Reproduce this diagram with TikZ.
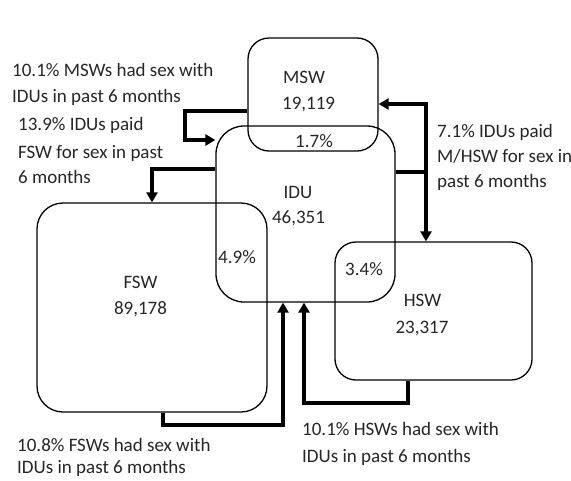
\documentclass[tikz,border=0pt]{standalone}
\usepackage{fontspec}
\setmainfont{Carlito}
\usetikzlibrary{arrows.meta}
\begin{document}
\begin{tikzpicture}[x=1pt,y=-1pt,
  box/.style={draw, line width=1.3pt, rounded corners=#1, inner sep=0pt},
  flow/.style={line width=3.2pt, line join=miter, -{Triangle[length=10pt,width=11pt]}},
  bar/.style={line width=3.2pt, line join=miter},
  lbl/.style={anchor=base west, inner sep=0pt, text=black!85,
              font=\fontsize{19}{23}\selectfont},
  ctr/.style={lbl, anchor=base}]
\useasboundingbox (0,0) rectangle (571,480);

% population boxes
\node[box=21, minimum width=130pt, minimum height=113pt] (msw) at (313,94.5) {};
\node[box=28, minimum width=179pt, minimum height=176pt] (idu) at (305.5,214) {};
\node[box=26, minimum width=230pt, minimum height=209pt] (fsw) at (152,307.5) {};
\node[box=21, minimum width=197pt, minimum height=138pt] (hsw) at (433.5,311) {};

% box contents
\node[lbl] (mswname) at (283,83) {MSW};
\node[lbl] (mswnum)  at (282,109) {19,119};
\node[lbl] (mswidu)  at (295,147) {1.7\%};
\node[ctr] (iduname) at (298,198) {IDU};
\node[ctr] (idunum)  at (298.5,223) {46,351};
\node[lbl] (fswidu)  at (218,263) {4.9\%};
\node[ctr] (fswname) at (140.5,288) {FSW};
\node[ctr] (fswnum)  at (140.5,314) {89,178};
\node[lbl] (hswidu)  at (345,275) {3.4\%};
\node[ctr] (hswname) at (422.5,306) {HSW};
\node[ctr] (hswnum)  at (422,333) {23,317};

% flows between the groups
\draw[flow] (msw.west |- 0,111) -| (185,140) -- (idu.west |- 0,140);
\draw[flow] (idu.west |- 0,169) -| (fsw.north -| 152,0);
\coordinate (fork) at (426,172);
\draw[bar]  (idu.east |- fork) -- (fork);
\draw[flow] (fork) |- (msw.east |- 0,104);
\draw[flow] (fork) -- (fork |- hsw.north);
\draw[flow] (fsw.south -| 163,0) -- (163,425) -| (idu.south -| 283,0);
\draw[flow] (hsw.south -| 408,0) -- (408,403) -| (idu.south -| 304,0);

% flow descriptions
\node[lbl] (m1) at (12,76)  {10.1\% MSWs had sex with};
\node[lbl] (m2) at (12,102) {IDUs in past 6 months};
\node[lbl] (f1) at (18,130) {13.9\% IDUs paid};
\node[lbl] (f2) at (18,158) {FSW for sex in past};
\node[lbl] (f3) at (18,183) {6 months};
\node[lbl] (h1) at (437,137) {7.1\% IDUs paid};
\node[lbl] (h2) at (437,162) {M/HSW for sex in};
\node[lbl] (h3) at (437,187) {past 6 months};
\node[lbl] (s1) at (17,451) {10.8\% FSWs had sex with};
\node[lbl] (s2) at (17,473.5) {IDUs in past 6 months};
\node[lbl] (w1) at (302,435) {10.1\% HSWs had sex with};
\node[lbl] (w2) at (302,462) {IDUs in past 6 months};
\end{tikzpicture}
\end{document}
